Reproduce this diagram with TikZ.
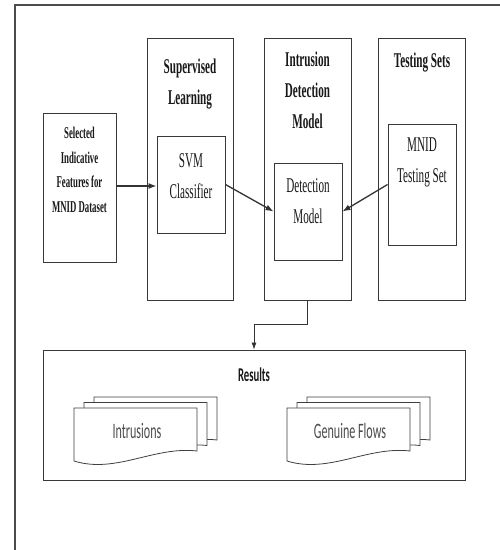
\documentclass[tikz,border=0pt]{standalone}
\usepackage{fontspec}
\newfontfamily\tnr[FakeStretch=0.53]{Liberation Serif}
\newfontfamily\calf[FakeStretch=0.55]{Carlito}
\usetikzlibrary{arrows.meta}
\tikzset{
  box/.style={draw=black!78, line width=0.9pt, inner sep=0pt, fill=none},
  ttl/.style={font=\tnr\bfseries\fontsize{21}{31}\selectfont, align=center, anchor=base, inner sep=0pt, text=black!90},
  lbl/.style={font=\tnr\fontsize{21}{31}\selectfont, align=center, anchor=base, inner sep=0pt, text=black!90},
  sel/.style={font=\tnr\bfseries\fontsize{16.5}{24.5}\selectfont, align=center, anchor=base, inner sep=0pt, text=black!90},
  doctxt/.style={font=\calf\fontsize{22}{26}\selectfont, anchor=base, inner sep=0pt, text=black!70},
  restxt/.style={font=\calf\bfseries\fontsize{19.5}{23}\selectfont, anchor=base, inner sep=0pt, text=black!90},
  flow/.style={draw=black!80, line width=1.3pt, -{Latex[length=8pt,width=6pt]}},
  thinflow/.style={draw=black!80, line width=0.8pt, -{Latex[length=7pt,width=5pt]}},
  docline/.style={draw=black!75, line width=0.8pt, fill=white},
  frame/.style={draw=black!70, line width=2pt},
}
\newcommand\mydocshape[2]{%
  \begin{scope}[shift={(#1,#2)}]
    \path[docline] (0,0) -- (123,0) -- (123,43) .. controls (80,38) and (42,66) .. (0,53) -- cycle;
  \end{scope}}
\begin{document}
\begin{tikzpicture}[x=1pt,y=-1pt]
\useasboundingbox[fill=white] (0,0) rectangle (500,550);
\draw[frame] (500,5) -- (15,5) -- (15,550);

% boxes
\node[box, minimum width=73pt, minimum height=149pt] (selbox) at (79.5,187.5) {};
\node[box, minimum width=86pt, minimum height=262pt] (sup) at (190,169) {};
\node[box, minimum width=87pt, minimum height=262pt] (idm) at (307.5,169) {};
\node[box, minimum width=87pt, minimum height=262pt] (tst) at (421.5,169) {};
\node[box, minimum width=68pt, minimum height=97pt] (svm) at (191,184.5) {};
\node[box, minimum width=68pt, minimum height=97pt] (det) at (308,211.5) {};
\node[box, minimum width=68pt, minimum height=121pt] (mtest) at (422,184.5) {};
\node[box, minimum width=422pt, minimum height=130pt] (res) at (254,415) {};

% texts (anchor=base is the baseline of the last line)
\node[sel] (seltxt) at (79.5,212) {Selected\\Indicative\\Features for\\MNID Dataset};
\node[ttl] (suptxt) at (190,104) {Supervised\\Learning};
\node[ttl] (idmtxt) at (307.5,128) {Intrusion\\Detection\\Model};
\node[ttl] (tsttxt) at (422,67) {Testing Sets};
\node[lbl] (svmtxt) at (191,198) {SVM\\Classifier};
\node[lbl] (dettxt) at (308,223) {Detection\\Model};
\node[lbl] (mtesttxt) at (422,182) {MNID\\Testing Set};
\node[restxt] (restitle) at (254,381) {Results};

% documents
\mydocshape{94}{397}
\mydocshape{84}{402.5}
\mydocshape{74}{408}
\mydocshape{307}{397}
\mydocshape{297}{402.5}
\mydocshape{287}{408}
\node[doctxt] (intr) at (137,438) {Intrusions};
\node[doctxt] (gen) at (350,438) {Genuine Flows};

% connectors
\draw[flow] (selbox.east |- 0,186) -- (svm.west |- 0,186);
\draw[flow] (svm.east) -- (det.west);
\draw[flow] (mtest.west) -- (det.east);
\draw[thinflow] (idm.south) -- ++(0,24) -| (res.north);
\end{tikzpicture}
\end{document}
